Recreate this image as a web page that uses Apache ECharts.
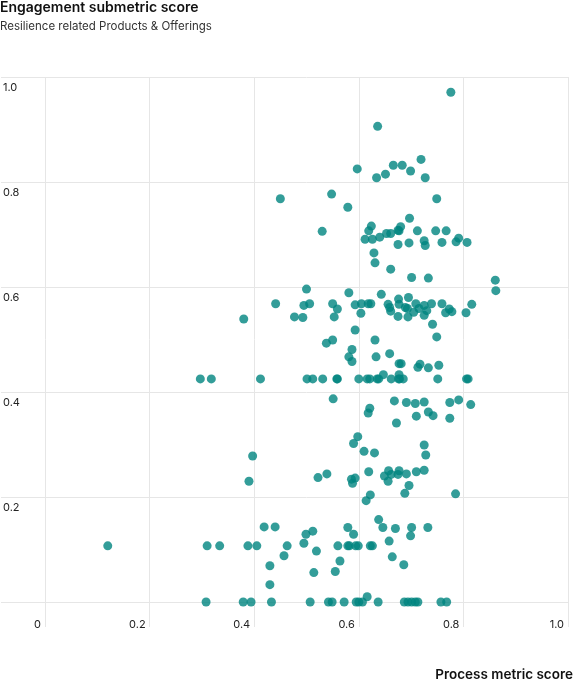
<!DOCTYPE html>
<html>
<head>
<meta charset="utf-8">
<script src="https://cdn.jsdelivr.net/npm/echarts@6/dist/echarts.min.js"></script>
<style>
  html, body { margin: 0; padding: 0; background: #fff; }
  #chart { width: 584px; height: 684px; }
</style>
</head>
<body>
<div id="chart"></div>
<script>
// axis ticks
const xTicks = [0, 0.2, 0.4, 0.6, 0.8, 1.0]
const yTicks = [0, 0.2, 0.4, 0.6, 0.8, 1.0]

// process metric score (x) / engagement submetric score (y)
const processScore = [
  0.776, 0.636, 0.597, 0.666, 0.683, 0.719, 0.699, 0.651, 0.634, 0.727,
  0.450, 0.548, 0.579, 0.749, 0.530, 0.697, 0.624, 0.619, 0.612, 0.626,
  0.640, 0.653, 0.661, 0.675, 0.677, 0.680, 0.712, 0.747, 0.767, 0.675,
  0.696, 0.725, 0.727, 0.759, 0.786, 0.791, 0.807, 0.629, 0.631, 0.661,
  0.701, 0.733, 0.861, 0.862,
  0.500, 0.581, 0.643, 0.676, 0.695, 0.495, 0.506, 0.550, 0.559, 0.593,
  0.605, 0.618, 0.623, 0.656, 0.659, 0.661, 0.677, 0.689, 0.693, 0.709,
  0.715, 0.725, 0.730, 0.739, 0.759, 0.766, 0.773, 0.778, 0.805, 0.816,
  0.477, 0.493, 0.553, 0.604, 0.675, 0.694, 0.705, 0.725, 0.741, 0.749,
  0.593, 0.538, 0.550, 0.631, 0.587, 0.581, 0.587, 0.633, 0.659, 0.677,
  0.681, 0.717, 0.713, 0.733, 0.753, 0.380, 0.441,
  0.297, 0.318, 0.412, 0.501, 0.512, 0.531, 0.558, 0.559, 0.600, 0.616,
  0.621, 0.635, 0.638, 0.662, 0.676, 0.678, 0.685, 0.751, 0.806, 0.809,
  0.647, 0.677,
  0.551, 0.668, 0.691, 0.708, 0.725, 0.774, 0.791, 0.814, 0.621, 0.618,
  0.710, 0.733, 0.742, 0.774, 0.672, 0.598, 0.590, 0.610, 0.630, 0.725,
  0.728, 0.397, 0.390, 0.522, 0.539, 0.586, 0.593, 0.588, 0.619, 0.649,
  0.657, 0.656, 0.662, 0.675, 0.677, 0.691, 0.710, 0.725, 0.696, 0.688,
  0.785, 0.622, 0.614, 0.638, 0.646, 0.670, 0.701, 0.732, 0.699, 0.658,
  0.579, 0.590, 0.499, 0.512, 0.495, 0.463, 0.457, 0.519,
  0.120, 0.310, 0.334, 0.388, 0.405, 0.560, 0.579, 0.582, 0.594, 0.599,
  0.622, 0.626,
  0.419, 0.440, 0.430, 0.430, 0.664, 0.686, 0.564, 0.514, 0.555, 0.616,
  0.308, 0.379, 0.394, 0.433, 0.507, 0.542, 0.549, 0.572, 0.595, 0.600,
  0.607, 0.637, 0.687, 0.694, 0.701, 0.708, 0.713, 0.757, 0.768
]
const engagementScore = [
  0.971, 0.906, 0.825, 0.832, 0.832, 0.843, 0.821, 0.815, 0.808, 0.808,
  0.768, 0.777, 0.752, 0.768, 0.706, 0.731, 0.716, 0.707, 0.691, 0.691,
  0.695, 0.702, 0.702, 0.708, 0.707, 0.715, 0.707, 0.707, 0.707, 0.681,
  0.684, 0.688, 0.679, 0.685, 0.686, 0.693, 0.685, 0.665, 0.646, 0.634,
  0.618, 0.617, 0.613, 0.593,
  0.596, 0.589, 0.586, 0.577, 0.580, 0.565, 0.568, 0.568, 0.558, 0.566,
  0.568, 0.568, 0.568, 0.567, 0.561, 0.554, 0.567, 0.561, 0.559, 0.568,
  0.559, 0.565, 0.555, 0.568, 0.568, 0.551, 0.558, 0.553, 0.551, 0.567,
  0.543, 0.542, 0.543, 0.550, 0.544, 0.543, 0.552, 0.546, 0.529, 0.505,
  0.518, 0.493, 0.499, 0.499, 0.481, 0.467, 0.458, 0.467, 0.473, 0.454,
  0.454, 0.453, 0.447, 0.446, 0.451, 0.539, 0.568,
  0.425, 0.425, 0.425, 0.425, 0.425, 0.425, 0.425, 0.425, 0.425, 0.425,
  0.425, 0.425, 0.425, 0.425, 0.425, 0.425, 0.425, 0.425, 0.425, 0.425,
  0.433, 0.433,
  0.387, 0.383, 0.380, 0.378, 0.381, 0.380, 0.385, 0.376, 0.369, 0.360,
  0.354, 0.362, 0.355, 0.350, 0.341, 0.315, 0.302, 0.287, 0.284, 0.299,
  0.280, 0.278, 0.230, 0.237, 0.244, 0.234, 0.236, 0.226, 0.248, 0.240,
  0.250, 0.230, 0.243, 0.243, 0.250, 0.244, 0.248, 0.251, 0.222, 0.207,
  0.206, 0.204, 0.193, 0.157, 0.142, 0.140, 0.142, 0.142, 0.126, 0.116,
  0.142, 0.129, 0.129, 0.135, 0.112, 0.107, 0.088, 0.097,
  0.107, 0.107, 0.107, 0.107, 0.107, 0.107, 0.107, 0.107, 0.107, 0.107,
  0.107, 0.107,
  0.143, 0.143, 0.069, 0.033, 0.086, 0.071, 0.078, 0.056, 0.058, 0.010,
  0, 0, 0, 0, 0, 0, 0, 0, 0, 0,
  0, 0, 0, 0, 0, 0, 0, 0, 0
]

const points = processScore.map((x, i) => [x, engagementScore[i]])

const gridColor = '#e6e6e6'
const textColor = '#222'
const fontFamily = 'Inter, "Noto Sans", sans-serif'

const chart = echarts.init(document.getElementById('chart'))
chart.setOption({
  animation: false,
  textStyle: { fontFamily: fontFamily },
  title: [{
    text: 'Engagement submetric score',
    subtext: 'Resilience related Products & Offerings',
    left: 0,
    top: 1,
    itemGap: 6,
    padding: 0,
    textStyle: { fontSize: 14, fontWeight: 600, color: '#111', fontFamily: fontFamily },
    subtextStyle: { fontSize: 11.5, color: '#333', fontFamily: fontFamily }
  }, {
    text: 'Process metric score',
    right: 11,
    top: 668,
    padding: 0,
    textStyle: { fontSize: 13.5, fontWeight: 600, color: '#111', fontFamily: fontFamily }
  }],
  grid: {
    left: 44,
    right: 16,
    top: 77,
    bottom: 82,
    containLabel: false
  },
  xAxis: {
    type: 'value',
    min: 0,
    max: 1,
    interval: 0.2,
    axisLine: { show: false },
    axisTick: { show: true, length: 25, lineStyle: { color: gridColor } },
    splitLine: { show: true, lineStyle: { color: gridColor } },
    axisLabel: {
      margin: 17,
      align: 'right',
      padding: [0, 4, 0, 0],
      fontSize: 11,
      color: textColor,
      formatter: v => (v === 0 ? '0' : v.toFixed(1))
    }
  },
  yAxis: {
    type: 'value',
    min: 0,
    max: 1,
    interval: 0.2,
    axisLine: { show: false },
    axisTick: { show: true, length: 44, lineStyle: { color: gridColor } },
    splitLine: { show: true, lineStyle: { color: gridColor } },
    axisLabel: {
      margin: 42,
      align: 'left',
      verticalAlign: 'top',
      padding: [5, 0, 0, 0],
      fontSize: 11,
      color: textColor,
      formatter: v => (v === 0 ? '' : v.toFixed(1))
    }
  },
  series: [{
    type: 'scatter',
    data: points,
    symbolSize: 9,
    itemStyle: { color: '#00857f', opacity: 0.8 }
  }]
})
</script>
</body>
</html>
